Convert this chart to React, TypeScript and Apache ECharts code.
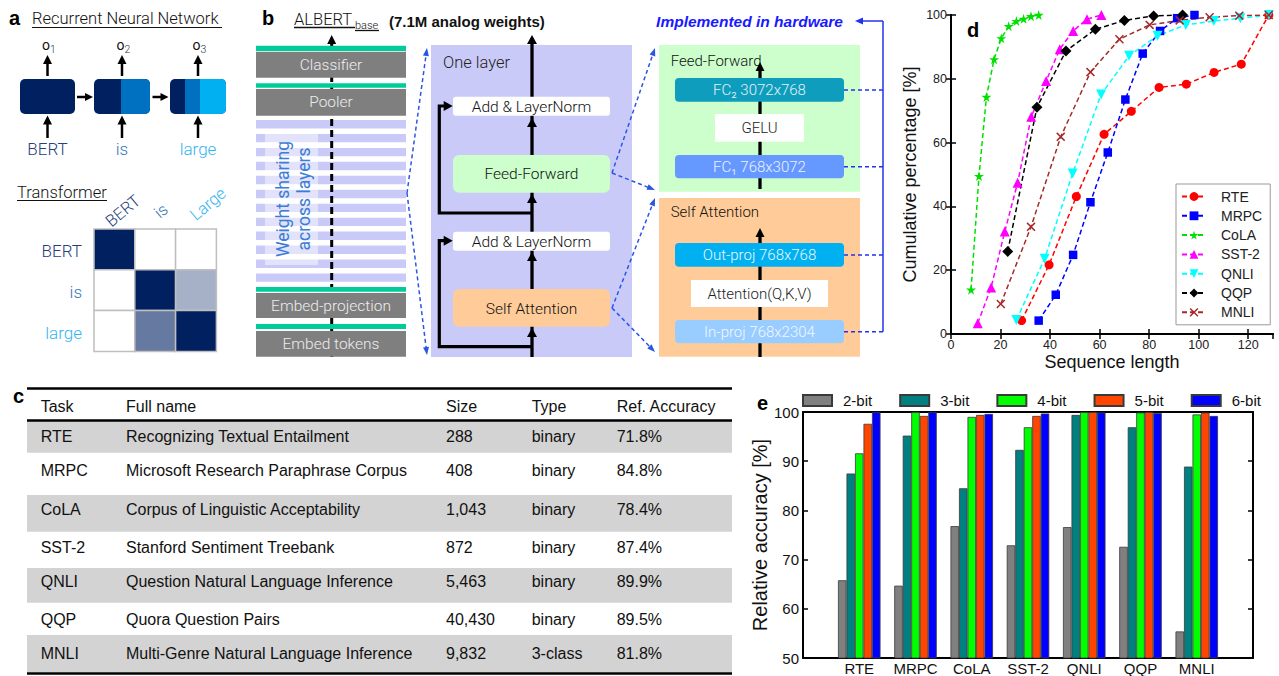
import React, { useEffect, useRef } from 'react';
import * as echarts from 'echarts';

// ---------------- Panel d data (sequence length vs cumulative %) ----------------
const seriesNamesD = ['RTE', 'MRPC', 'CoLA', 'SST-2', 'QNLI', 'QQP', 'MNLI'];
const rteLen = [28.5, 39.6, 50.6, 61.8, 72.8, 84, 95, 106.2, 117.2, 128.3];
const rteCum = [4.2, 21.7, 43.1, 62.6, 69.8, 77.3, 78.3, 82.0, 84.6, 100];
const mrpcLen = [35.4, 42.3, 49.3, 56.3, 63.3, 70.4, 77.4, 84.4, 91.3, 98.3];
const mrpcCum = [4.2, 12.3, 24.8, 41.3, 56.9, 73.5, 87.9, 95.0, 99.0, 100];
const colaLen = [8.1, 11.3, 14.3, 17.4, 20.3, 23.3, 26.4, 29.3, 32.3, 35.4];
const colaCum = [13.9, 49.5, 74.3, 86.1, 92.7, 96.5, 98.1, 98.8, 99.6, 100];
const sstLen = [10.8, 16.2, 21.7, 26.9, 32.4, 38.4, 43.9, 49.3, 54.9, 60.7];
const sstCum = [3.4, 14.6, 32.1, 47.4, 68.1, 79.3, 89.3, 95.0, 98.7, 100];
const qnliLen = [26.4, 37.8, 49.1, 60.6, 71.9, 83.4, 94.8, 106.1, 116.8, 128.3];
const qnliCum = [4.4, 23.6, 50.3, 75.1, 87.2, 93.5, 96.9, 98.1, 99.0, 100];
const qqpLen = [22.9, 34.7, 46.4, 58.3, 70.0, 81.8, 93.5];
const qqpCum = [25.9, 71.1, 88.7, 95.5, 98.3, 99.7, 100];
const mnliLen = [20.1, 32.3, 44.3, 56.3, 68.0, 80.2, 92.3, 104.4, 116.4, 128.3];
const mnliCum = [9.4, 33.6, 61.8, 82.1, 92.4, 96.9, 98.3, 99.3, 99.8, 100];

// ---------------- Panel e data (relative accuracy) ----------------
const taskCats = ['', 'RTE', 'MRPC', 'CoLA', 'SST-2', 'QNLI', 'QQP', 'MNLI', ''];
const bitLabels = ['2-bit', '3-bit', '4-bit', '5-bit', '6-bit'];
const acc2bit = [65.8, 64.7, 76.8, 72.9, 76.6, 72.6, 55.4];
const acc3bit = [87.5, 95.2, 84.5, 92.3, 99.4, 96.9, 88.9];
const acc4bit = [91.6, 100, 99.0, 96.9, 100, 99.9, 99.5];
const acc5bit = [97.6, 99.2, 99.4, 99.2, 100, 100, 99.9];
const acc6bit = [100, 100, 99.6, 99.7, 99.9, 99.8, 99.2];

// ---------------- Panel c table ----------------
const tableHeader = ['Task', 'Full name', 'Size', 'Type', 'Ref. Accuracy'];
const tableTasks = ['RTE', 'MRPC', 'CoLA', 'SST-2', 'QNLI', 'QQP', 'MNLI'];
const tableFullNames = [
  'Recognizing Textual Entailment',
  'Microsoft Research Paraphrase Corpus',
  'Corpus of Linguistic Acceptability',
  'Stanford Sentiment Treebank',
  'Question Natural Language Inference',
  'Quora Question Pairs',
  'Multi-Genre Natural Language Inference',
];
const tableSizes = ['288', '408', '1,043', '872', '5,463', '40,430', '9,832'];
const tableTypes = ['binary', 'binary', 'binary', 'binary', 'binary', 'binary', '3-class'];
const tableRefAcc = ['71.8%', '84.8%', '78.4%', '87.4%', '89.9%', '89.5%', '81.8%'];

// ---------------- Panel a ----------------
const rnnTokens = ['BERT', 'is', 'large'];
const rnnOutputSubs = ['1', '2', '3'];
const attnLabels = ['BERT', 'is', 'Large'];
const attnRowLabels = ['BERT', 'is', 'large'];
const attnWeights = [
  [1, 0, 0],
  [0, 1, 0.35],
  [0, 0.6, 1],
];

// ---------------- Panel b ----------------
const leftBlocks = ['Classifier', 'Pooler', 'Embed-projection', 'Embed tokens'];
const ffBlocks = ['FC\u2082 3072x768', 'GELU', 'FC\u2081 768x3072'];
const saBlocks = ['Out-proj 768x768', 'Attention(Q,K,V)', 'In-proj 768x2304'];

const FONT_A = "Roboto, 'Liberation Sans', sans-serif";
const FONT_C = "'Liberation Sans', Arial, sans-serif";

const T = (x: number, y: number, text: string, o: any = {}) => ({
  type: 'text',
  x,
  y,
  rotation: o.rot || 0,
  style: {
    text,
    x: 0,
    y: 0,
    fill: o.color || '#222',
    fontSize: o.size || 15,
    fontFamily: o.font || FONT_A,
    fontWeight: o.weight || (o.font ? 'normal' : 300),
    fontStyle: o.style || 'normal',
    align: o.align || 'left',
    verticalAlign: 'middle',
    textAlign: o.align || 'left',
    textVerticalAlign: 'middle',
  },
});
const R = (x: number, y: number, w: number, h: number, fill: string, o: any = {}) => ({
  type: 'rect',
  shape: { x, y, width: w, height: h, r: o.r || 0 },
  style: { fill, stroke: o.stroke || null, lineWidth: o.lw || 0 },
});
const L = (x1: number, y1: number, x2: number, y2: number, stroke: string, lw: number, dash?: number[]) => ({
  type: 'line',
  shape: { x1, y1, x2, y2 },
  style: { stroke, lineWidth: lw, lineDash: dash || null },
});
const head = (tx: number, ty: number, dx: number, dy: number, len: number, w: number, color: string) => {
  const n = Math.hypot(dx, dy);
  const ux = dx / n, uy = dy / n;
  const bx = tx - ux * len, by = ty - uy * len;
  const px = -uy, py = ux;
  return {
    type: 'polygon',
    shape: { points: [[tx, ty], [bx + (px * w) / 2, by + (py * w) / 2], [bx - (px * w) / 2, by - (py * w) / 2]] },
    style: { fill: color },
  };
};
const arrow = (x1: number, y1: number, x2: number, y2: number, color: string, lw: number, hl: number, hw: number, dash?: number[]) => {
  const n = Math.hypot(x2 - x1, y2 - y1);
  const ux = (x2 - x1) / n, uy = (y2 - y1) / n;
  return [L(x1, y1, x2 - ux * hl * 0.8, y2 - uy * hl * 0.8, color, lw, dash), head(x2, y2, ux, uy, hl, hw, color)];
};

function buildGraphics() {
  const g: any[] = [];
  // ---------- Panel a ----------
  g.push(T(9, 18, 'a', { weight: 'bold', size: 20, font: FONT_C, color: '#000' }));
  g.push(T(32, 18, 'Recurrent Neural Network', { size: 16.5, color: '#111' }));
  g.push(L(32, 27.5, 222, 27.5, '#111', 1.2));
  const NAVY = '#002060', MID = '#0070C0', LIGHT = '#00B0F0';
  g.push(R(20, 79, 55, 35, NAVY, { r: 5 }));
  g.push(R(94, 79, 56, 35, NAVY, { r: 5 }));
  g.push(R(121, 79, 29, 35, MID, { r: [0, 5, 5, 0] }));
  g.push(R(170, 79, 56, 35, NAVY, { r: 5 }));
  g.push(R(185, 79, 15, 35, MID));
  g.push(R(200, 79, 26, 35, LIGHT, { r: [0, 5, 5, 0] }));
  const rnnCx = [47.5, 122, 198];
  const tokColors = ['#26407A', '#2E75B6', '#33B5F0'];
  rnnCx.forEach((cx, i) => {
    g.push(...arrow(cx, 76, cx, 55, '#000', 2.5, 9, 9));
    g.push(...arrow(cx, 138, cx, 115.5, '#000', 2.5, 9, 9));
    g.push(T(cx - 1.5, 45, 'o', { size: 14, color: '#111', align: 'center', weight: 'normal' }));
    g.push(T(cx + 5.5, 49.5, rnnOutputSubs[i], { size: 10.5, color: '#333', align: 'center' }));
    g.push(T(cx, 149, rnnTokens[i], { size: 17, color: tokColors[i], align: 'center' }));
  });
  g.push(...arrow(77, 97, 93, 97, '#000', 2.5, 8, 8));
  g.push(...arrow(152.5, 97, 168.5, 97, '#000', 2.5, 8, 8));

  g.push(T(17, 192, 'Transformer', { size: 16.5, color: '#111' }));
  g.push(L(17, 200.5, 107, 200.5, '#111', 1.2));
  const colLabelPos = [[123, 211], [161, 211], [208, 204]];
  attnLabels.forEach((lab, i) => {
    g.push(T(colLabelPos[i][0], colLabelPos[i][1], lab, { size: 16.5, color: tokColors[i], align: 'center', rot: (40 * Math.PI) / 180 }));
  });
  const mx = 94, my = 229, cs = 40.8;
  attnWeights.forEach((row, r) => {
    row.forEach((w, c) => {
      const col = `rgb(${Math.round(255 - 255 * w)},${Math.round(255 - 223 * w)},${Math.round(255 - 159 * w)})`;
      g.push(R(mx + c * cs, my + r * cs, cs, cs, col, { stroke: '#BFBFBF', lw: 1.5 }));
    });
    g.push(T(82, my + r * cs + cs / 2 + 2, attnRowLabels[r], { size: 17, color: tokColors[r], align: 'right' }));
  });

  // ---------- Panel b ----------
  const LAV = '#CACAF8';
  g.push(T(262, 18, 'b', { weight: 'bold', size: 20, font: FONT_C, color: '#000' }));
  g.push(T(294, 19.5, 'ALBERT', { size: 16.5, color: '#111' }));
  g.push(L(294, 27.5, 355, 27.5, '#111', 1.3));
  g.push(T(355, 25, 'base', { size: 11, color: '#111' }));
  g.push(L(355, 30.5, 379, 30.5, '#111', 1.3));
  g.push(T(389, 21, '(7.1M analog weights)', { size: 15, weight: 'bold', font: FONT_C, color: '#111' }));
  for (let i = 0; i < 12; i++) g.push(R(256, 120 + i * 13.95, 150, 8.4, LAV));
  g.push(R(265, 133, 53, 132, 'rgba(255,255,255,0.45)'));
  g.push(L(331.7, 357, 331.7, 43, '#000', 3, [7, 4]));
  g.push(head(331.7, 35, 0, -1, 9, 9, '#000'));
  const greenBars = [[45.7, 5.3], [83.3, 4.4], [287, 4.7], [324, 5]];
  greenBars.forEach(([y, h]) => g.push(R(256, y, 150, h, '#00CC99')));
  const grayBoxes = [[51.7, 26], [89, 26.7], [293, 25], [331, 25.7]];
  grayBoxes.forEach(([y, h], i) => {
    g.push(R(256, y, 150, h, '#7F7F7F'));
    g.push(T(331, y + h / 2, leftBlocks[i], { size: 15.5, color: '#EDEDED', align: 'center' }));
  });
  g.push(T(283, 199, 'Weight sharing', { rot: Math.PI / 2, size: 17.5, color: '#3A7DD6', align: 'center', weight: 'normal' }));
  g.push(T(304, 199, 'across layers', { rot: Math.PI / 2, size: 17.5, color: '#3A7DD6', align: 'center', weight: 'normal' }));

  const BLUE_D = '#2B55E6';
  g.push(...arrow(407, 193, 427, 48, BLUE_D, 1.5, 8, 6, [4, 3]));
  g.push(...arrow(407, 193, 427, 355, BLUE_D, 1.5, 8, 6, [4, 3]));

  // One layer panel
  g.push(R(431, 45, 201, 312, LAV));
  g.push(T(443, 62, 'One layer', { size: 16.5, color: '#222' }));
  g.push(L(532, 357, 532, 43, '#000', 3.3));
  g.push(head(532, 35, 0, -1, 9, 10, '#000'));
  g.push({ type: 'polyline', shape: { points: [[532, 213], [439.3, 213], [439.3, 106], [445, 106]] }, style: { stroke: '#000', lineWidth: 3.2, fill: null } });
  g.push(head(452.7, 106, 1, 0, 9, 10, '#000'));
  g.push({ type: 'polyline', shape: { points: [[532, 346.7], [439.3, 346.7], [439.3, 240.7], [445, 240.7]] }, style: { stroke: '#000', lineWidth: 3.2, fill: null } });
  g.push(head(452.7, 240.7, 1, 0, 9, 10, '#000'));
  g.push(R(453, 96.7, 157, 19, '#FFFFFF', { r: 3 }));
  g.push(T(531.5, 106.5, 'Add & LayerNorm', { size: 15.5, color: '#111', align: 'center' }));
  g.push(R(453, 155, 157, 37.7, '#CCFFCC', { r: 6 }));
  g.push(T(531.5, 173.5, 'Feed-Forward', { size: 15.5, color: '#111', align: 'center' }));
  g.push(R(453, 231.7, 157, 19, '#FFFFFF', { r: 3 }));
  g.push(T(531.5, 241.5, 'Add & LayerNorm', { size: 15.5, color: '#111', align: 'center' }));
  g.push(R(453, 289, 157, 37.7, '#FFCC99', { r: 6 }));
  g.push(T(531.5, 308.5, 'Self Attention', { size: 15.5, color: '#111', align: 'center' }));
  g.push(head(532, 118, 0, -1, 9, 10, '#000'));
  g.push(head(532, 194, 0, -1, 9, 10, '#000'));
  g.push(head(532, 252, 0, -1, 9, 10, '#000'));
  g.push(head(532, 328, 0, -1, 9, 10, '#000'));

  g.push(...arrow(612, 173, 655, 48, BLUE_D, 1.5, 8, 6, [4, 3]));
  g.push(...arrow(612, 173, 655, 190, BLUE_D, 1.5, 8, 6, [4, 3]));
  g.push(...arrow(612, 308, 655, 198, BLUE_D, 1.5, 8, 6, [4, 3]));
  g.push(...arrow(612, 308, 655, 352, BLUE_D, 1.5, 8, 6, [4, 3]));

  // Feed-forward panel
  g.push(R(659, 45, 201, 146.7, '#CCFFCC'));
  g.push(T(670.7, 61, 'Feed-Forward', { size: 15, color: '#111' }));
  g.push(L(760, 189, 760, 70, '#000', 3.3));
  g.push(head(760, 62, 0, -1, 9, 9, '#000'));
  g.push(R(675, 78, 169, 23.7, '#0E9DBD', { r: 4 }));
  g.push(T(759.5, 90, ffBlocks[0], { size: 15, color: '#E4F2F6', align: 'center' }));
  g.push(R(715, 114, 89, 27.7, '#FFFFFF'));
  g.push(T(759.5, 128, ffBlocks[1], { size: 15, color: '#222', align: 'center' }));
  g.push(R(675, 155, 169, 23.3, '#6699FF', { r: 4 }));
  g.push(T(759.5, 166.7, ffBlocks[2], { size: 15, color: '#EEF2FF', align: 'center' }));

  // Self attention panel
  g.push(R(659, 198, 201, 158.7, '#FFCC99'));
  g.push(T(670.7, 212, 'Self Attention', { size: 15, color: '#111' }));
  g.push(L(760, 357, 760, 236, '#000', 3.3));
  g.push(head(760, 228, 0, -1, 9, 9, '#000'));
  g.push(R(675, 243, 169, 23.7, '#00B0F0', { r: 4 }));
  g.push(T(759.5, 255, saBlocks[0], { size: 15, color: '#EAF8FF', align: 'center' }));
  g.push(R(691, 280, 137, 27, '#FFFFFF'));
  g.push(T(759.5, 294, saBlocks[1], { size: 15, color: '#222', align: 'center' }));
  g.push(R(675, 320, 169, 23.3, '#99CCFF', { r: 4 }));
  g.push(T(759.5, 331.7, saBlocks[2], { size: 15, color: '#F2F8FF', align: 'center' }));

  // hardware connectors
  const BLUE_H = '#2233EE';
  [90, 166.7, 255, 331.7].forEach((y) => g.push(L(844, y, 883, y, BLUE_H, 1.5, [4, 3])));
  g.push(L(883, 21, 883, 331.7, BLUE_H, 1.5));
  g.push(...arrow(883, 21, 855, 21, BLUE_H, 1.5, 8, 7));
  g.push(T(843, 21, 'Implemented in hardware', { size: 15.5, weight: 'bold', style: 'italic', font: FONT_C, color: '#1A1AFF', align: 'right' }));

  // ---------- Panel c ----------
  g.push(T(13, 396, 'c', { weight: 'bold', size: 20, font: FONT_C, color: '#000' }));
  const bands = [[421, 31.7], [495, 36.7], [568, 34.7], [635, 37.5]];
  bands.forEach(([y, h]) => g.push(R(27, y, 705, h, '#D3D3D3')));
  g.push(L(27, 388.5, 732, 388.5, '#000', 2.5));
  g.push(L(27, 420.5, 732, 420.5, '#000', 2.5));
  g.push(L(27, 673.5, 732, 673.5, '#000', 2.5));
  const colX = [40.7, 126, 446, 531.7, 616.7];
  tableHeader.forEach((h, i) => g.push(T(colX[i], 406, h, { size: 16, font: FONT_C, color: '#111' })));
  const rowY = [436.7, 470, 509, 547.7, 581.7, 619.3, 653.3];
  tableTasks.forEach((t, r) => {
    const cells = [t, tableFullNames[r], tableSizes[r], tableTypes[r], tableRefAcc[r]];
    cells.forEach((txt, i) => g.push(T(colX[i], rowY[r], txt, { size: 16, font: FONT_C, color: '#111' })));
  });

  // ---------- panel letters d, e ----------
  g.push(T(967, 30, 'd', { weight: 'bold', size: 20, font: FONT_C, color: '#000' }));
  g.push(T(757, 403, 'e', { weight: 'bold', size: 20, font: FONT_C, color: '#000' }));
  return g;
}

const STAR = 'path://M50,0 L61,35 L98,35 L68,57 L79,91 L50,70 L21,91 L32,57 L2,35 L39,35 Z';
const XMARK = 'path://M0,12 L12,0 L50,38 L88,0 L100,12 L62,50 L100,88 L88,100 L50,62 L12,100 L0,88 L38,50 Z';

function buildOption() {
  const lineDefs = [
    { name: seriesNamesD[0], xs: rteLen, ys: rteCum, color: '#FF0000', symbol: 'circle', size: 9, rot: 0 },
    { name: seriesNamesD[1], xs: mrpcLen, ys: mrpcCum, color: '#0000FF', symbol: 'rect', size: 8.5, rot: 0 },
    { name: seriesNamesD[2], xs: colaLen, ys: colaCum, color: '#00E000', symbol: STAR, size: 10, rot: 0 },
    { name: seriesNamesD[3], xs: sstLen, ys: sstCum, color: '#FF00FF', symbol: 'triangle', size: 10, rot: 0 },
    { name: seriesNamesD[4], xs: qnliLen, ys: qnliCum, color: '#00FFFF', symbol: 'triangle', size: 10, rot: 180 },
    { name: seriesNamesD[5], xs: qqpLen, ys: qqpCum, color: '#000000', symbol: 'diamond', size: 11, rot: 0 },
    { name: seriesNamesD[6], xs: mnliLen, ys: mnliCum, color: '#A52A2A', symbol: XMARK, size: 9, rot: 0 },
  ];
  const lineSeries = lineDefs.map((d) => ({
    name: d.name,
    type: 'line',
    xAxisIndex: 0,
    yAxisIndex: 0,
    data: d.xs.map((x, i) => [x, d.ys[i]]),
    symbol: d.symbol,
    symbolSize: d.size,
    symbolRotate: d.rot,
    showAllSymbol: true,
    itemStyle: { color: d.color },
    lineStyle: { color: d.color, width: 1.5, type: [5, 3] },
  }));
  const barDefs = [
    { name: bitLabels[0], vals: acc2bit, color: '#808080' },
    { name: bitLabels[1], vals: acc3bit, color: '#008080' },
    { name: bitLabels[2], vals: acc4bit, color: '#00FF00' },
    { name: bitLabels[3], vals: acc5bit, color: '#FF4500' },
    { name: bitLabels[4], vals: acc6bit, color: '#0000FF' },
  ];
  const barSeries = barDefs.map((d) => ({
    name: d.name,
    type: 'bar',
    xAxisIndex: 2,
    yAxisIndex: 2,
    data: ['-', ...d.vals, '-'],
    barWidth: 8.5,
    barGap: '0%',
    itemStyle: { color: d.color, borderColor: '#3A3A3A', borderWidth: 0.8 },
  }));
  const frame = { show: true, lineStyle: { color: '#000', width: 2 } };
  const tickIn = { show: true, inside: true, length: 5, lineStyle: { color: '#000', width: 1.5 } };
  return {
    animation: false,
    backgroundColor: '#fff',
    textStyle: { fontFamily: FONT_C },
    grid: [
      { left: 951, top: 15, width: 322, height: 319 },
      { left: 803, top: 412, width: 450, height: 246 },
    ],
    legend: [
      {
        data: seriesNamesD,
        orient: 'vertical',
        left: 1176,
        top: 184,
        itemWidth: 24,
        itemHeight: 11,
        itemGap: 4.3,
        padding: [5, 8, 5, 5],
        backgroundColor: '#fff',
        borderColor: '#999',
        borderWidth: 1,
        textStyle: { fontSize: 14, color: '#222', lineHeight: 15, padding: [0, 0, 0, 10] },
      },
      {
        data: bitLabels,
        orient: 'horizontal',
        left: 802,
        top: 392,
        icon: 'rect',
        itemWidth: 29,
        itemHeight: 11,
        itemGap: 27,
        padding: 0,
        textStyle: { fontSize: 15, color: '#111', lineHeight: 17, padding: [0, 0, 0, 6] },
      },
    ],
    xAxis: [
      {
        gridIndex: 0, type: 'value', min: 0, max: 130, interval: 20, position: 'bottom',
        axisLine: frame, axisTick: tickIn, splitLine: { show: false },
        axisLabel: { color: '#222', fontSize: 12.5, margin: 4, showMaxLabel: false },
        name: 'Sequence length', nameLocation: 'middle', nameGap: 19,
        nameTextStyle: { fontSize: 18, color: '#111' },
      },
      {
        gridIndex: 0, type: 'value', min: 0, max: 130, interval: 20, position: 'top',
        axisLine: frame, axisTick: tickIn, splitLine: { show: false }, axisLabel: { show: false },
      },
      {
        gridIndex: 1, type: 'category', data: taskCats, boundaryGap: false, position: 'bottom',
        axisLine: frame, axisTick: { show: false }, splitLine: { show: false },
        axisLabel: { color: '#111', fontSize: 15, margin: 3, interval: 0 },
      },
      {
        gridIndex: 1, type: 'value', min: 0, max: 1, position: 'top',
        axisLine: frame, axisTick: { show: false }, splitLine: { show: false }, axisLabel: { show: false },
      },
    ],
    yAxis: [
      {
        gridIndex: 0, type: 'value', min: 0, max: 100, interval: 20, position: 'left',
        axisLine: frame, axisTick: tickIn, splitLine: { show: false },
        axisLabel: { color: '#222', fontSize: 12.5, margin: 4 },
        name: 'Cumulative percentage [%]', nameLocation: 'middle', nameGap: 32,
        nameTextStyle: { fontSize: 18, color: '#111' },
      },
      {
        gridIndex: 0, type: 'value', min: 0, max: 100, interval: 20, position: 'right',
        axisLine: frame, axisTick: tickIn, splitLine: { show: false }, axisLabel: { show: false },
      },
      {
        gridIndex: 1, type: 'value', min: 50, max: 100, interval: 10, position: 'left',
        axisLine: frame, axisTick: tickIn, splitLine: { show: false },
        axisLabel: { color: '#111', fontSize: 15, margin: 4 },
        name: 'Relative accuracy [%]', nameLocation: 'middle', nameGap: 30,
        nameTextStyle: { fontSize: 20, color: '#111' },
      },
      {
        gridIndex: 1, type: 'value', min: 50, max: 100, interval: 10, position: 'right',
        axisLine: frame, axisTick: tickIn, splitLine: { show: false }, axisLabel: { show: false },
      },
    ],
    series: [...lineSeries, ...barSeries],
    graphic: { elements: buildGraphics() },
  };
}

export default function App() {
  const ref = useRef<HTMLDivElement>(null);
  useEffect(() => {
    const chart = echarts.init(ref.current as HTMLDivElement, null, { renderer: 'svg' });
    chart.setOption(buildOption() as any);
    return () => chart.dispose();
  }, []);
  return (
    <div
      ref={ref}
      style={{ position: 'absolute', left: 0, top: 0, width: 1279, height: 676, background: '#fff' }}
    />
  );
}
